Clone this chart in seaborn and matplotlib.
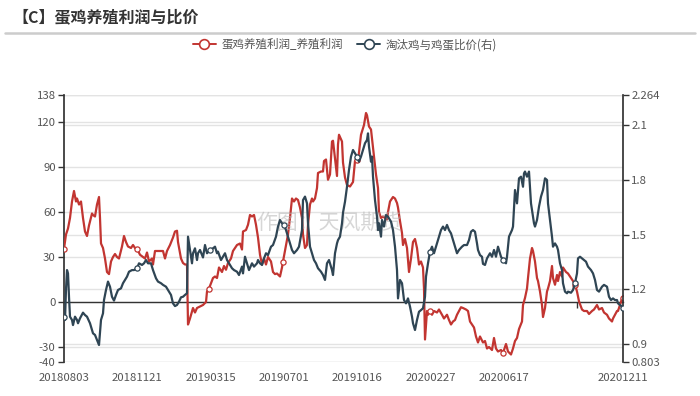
import numpy as np
import pandas as pd
import matplotlib
matplotlib.use("Agg")
import matplotlib.pyplot as plt
import seaborn as sns
from matplotlib.lines import Line2D

# ---------------- data (trading-day index -> value) ----------------
date_labels = ["20180803", "20181121", "20190315", "20190701",
               "20191016", "20200227", "20200617", "20201211"]
label_idx = [0, 73, 147, 220, 293, 367, 440, 559]
minor_tick_idx = [73, 147, 220, 293, 367, 440, 513]
marker_idx = [0, 73, 146, 220, 293, 366, 439, 511, 559]

profit_x = [0, 2, 4, 6, 8, 10, 12, 13, 15, 17, 19, 21, 23, 25, 28, 29, 31, 33, 35, 36,
            37, 39, 41, 43, 45, 47, 49, 51, 53, 55, 58, 60, 62, 64, 67, 69, 71, 73, 76, 79,
            81, 83, 85, 88, 89, 91, 93, 96, 99, 101, 103, 106, 109, 111, 113, 114, 117, 119, 121, 123,
            124, 126, 129, 131, 133, 136, 139, 142, 143, 145, 149, 151, 153, 155, 158, 160, 162, 164, 167, 169,
            171, 173, 176, 178, 179, 182, 184, 186, 188, 190, 192, 194, 196, 198, 200, 202, 204, 207, 209, 211,
            213, 216, 218, 219, 222, 224, 226, 228, 230, 232, 234, 236, 238, 239, 241, 243, 244, 246, 248, 249,
            251, 253, 254, 257, 259, 260, 262, 264, 266, 268, 269, 271, 273, 274, 275, 278, 279, 281, 283, 286,
            289, 291, 293, 294, 297, 299, 300, 302, 303, 305, 307, 309, 312, 314, 315, 317, 319, 321, 323, 324,
            326, 329, 331, 333, 334, 336, 338, 339, 341, 343, 345, 347, 349, 351, 353, 355, 357, 359, 360, 361,
            363, 364, 366, 368, 370, 373, 375, 378, 380, 383, 385, 387, 389, 391, 393, 395, 397, 399, 402, 404,
            406, 408, 410, 412, 414, 416, 419, 421, 423, 425, 428, 430, 432, 434, 437, 439, 442, 444, 447, 449,
            451, 453, 455, 458, 459, 461, 463, 464, 466, 468, 469, 471, 473, 474, 476, 478, 479, 481, 483, 484,
            486, 488, 489, 491, 493, 494, 496, 498, 499, 502, 504, 507, 509, 511, 513, 515, 518, 520, 523, 525,
            528, 530, 533, 535, 538, 540, 543, 545, 548, 549, 551, 553, 554, 556, 558, 559]
profit_y = [35.5, 45, 49, 56, 67, 74, 67, 69, 65, 67, 56, 47, 44, 51, 59, 58, 57, 65, 70, 56,
            39, 36, 29, 20, 18.6, 27, 30, 32, 30, 29, 37, 44, 40, 37, 36, 38, 36, 35.5, 31.5, 30,
            29, 33, 27, 29, 25, 34, 34, 34, 34, 29, 34, 38, 43, 47, 47.5, 40, 29, 26, 25, 25,
            -15, -11, -4, -7, -4, -3, -2, 0, 7, 9, 16, 17, 16, 23, 20, 24, 21.5, 26, 29, 34,
            36, 38, 39, 35, 47, 48, 51.5, 58, 57, 58, 51.5, 43, 31.5, 25, 29, 25, 30, 27, 20, 18.6,
            19, 17, 23, 27, 38, 45, 56, 69, 67, 69, 68, 63, 56, 45, 36, 38, 51.5, 65, 69, 67,
            69, 76, 86, 87, 87, 94, 95, 81.5, 85, 107, 107.5, 96, 84, 105, 111.5, 107, 93, 83, 78, 77,
            80, 94, 95, 94, 111.5, 116, 118, 126, 124.5, 117, 115, 103, 85, 76, 60, 56, 57, 56, 55, 60,
            67, 70, 69, 66, 63, 54, 46, 38, 42, 36, 20, 29, 40, 42, 36, 25, 27, 23, 9, -25,
            -6, -8.5, -6, -8.5, -6, -7, -5, -8.5, -11, -8.5, -12, -15, -13, -12, -8.5, -6, -3.5, -4, -5, -6,
            -13, -15, -17, -23, -27, -23, -27, -26, -31, -30, -32, -24, -31, -33, -32, -34, -28, -33, -35, -31,
            -26, -24, -18, -13, -2, 2.7, 9, 16, 29, 36, 34, 27, 16, 14, 7, -2, -10, -4, 7, 9,
            14, 24, 16, 11.5, 18, 14, 20, 17, 23, 20, 19, 16, 14, 11.5, 7, 0.4, -5, -6, -6, -8,
            -6, -5, -2, -5, -4, -7, -8.5, -11, -13, -11, -8.5, -6, -6, -2, 2.2, 2.7]

ratio_x = [0, 1, 2, 3, 4, 5, 6, 8, 9, 11, 13, 14, 16, 19, 21, 23, 26, 29, 31, 33,
           35, 37, 39, 40, 42, 44, 46, 48, 50, 52, 54, 57, 59, 61, 63, 65, 68, 70, 73, 75,
           78, 80, 82, 84, 87, 89, 92, 94, 97, 99, 102, 104, 107, 109, 111, 113, 115, 117, 119, 121,
           123, 124, 126, 128, 129, 131, 133, 134, 136, 139, 141, 143, 146, 149, 151, 153, 154, 157, 159, 161,
           163, 165, 168, 170, 173, 175, 178, 179, 181, 183, 185, 188, 190, 193, 194, 196, 198, 200, 202, 204,
           207, 209, 212, 214, 216, 218, 220, 222, 224, 226, 228, 230, 233, 235, 238, 239, 241, 243, 244, 246,
           248, 250, 252, 254, 257, 259, 261, 263, 265, 268, 269, 271, 273, 274, 276, 278, 279, 281, 283, 285,
           287, 289, 291, 293, 295, 297, 299, 301, 303, 304, 305, 307, 308, 309, 311, 313, 314, 315, 317, 318,
           320, 322, 324, 327, 329, 331, 333, 334, 336, 338, 340, 342, 344, 346, 348, 349, 351, 353, 355, 357,
           359, 361, 362, 364, 366, 368, 370, 372, 374, 377, 379, 381, 383, 385, 387, 389, 391, 393, 395, 398,
           400, 403, 405, 407, 409, 411, 413, 414, 416, 418, 419, 421, 423, 426, 428, 430, 432, 434, 437, 439,
           442, 443, 445, 448, 449, 451, 452, 453, 455, 457, 459, 460, 461, 463, 465, 467, 468, 470, 471, 473,
           475, 477, 479, 481, 483, 484, 486, 488, 489, 491, 493, 494, 496, 498, 499, 501, 503, 504, 507, 509,
           511, 513, 514, 516, 518, 520, 522, 524, 527, 529, 531, 533, 535, 538, 540, 543, 545, 547, 549, 551,
           553, 554, 556, 558, 559]
ratio_y = [1.047, 1.033, 1.200, 1.306, 1.288, 1.160, 1.051, 1.033, 1.005, 1.051, 1.033, 1.015, 1.042, 1.073, 1.060, 1.051, 1.015, 0.960, 0.951, 0.923,
           0.896, 1.033, 1.069, 1.142, 1.197, 1.243, 1.215, 1.160, 1.139, 1.170, 1.197, 1.206, 1.234, 1.252, 1.270, 1.297, 1.306, 1.306, 1.316, 1.343,
           1.334, 1.343, 1.361, 1.343, 1.343, 1.306, 1.261, 1.243, 1.234, 1.225, 1.215, 1.197, 1.170, 1.124, 1.109, 1.115, 1.133, 1.157, 1.160, 1.170,
           1.179, 1.489, 1.416, 1.343, 1.398, 1.425, 1.361, 1.398, 1.416, 1.375, 1.443, 1.398, 1.416, 1.425, 1.434, 1.398, 1.407, 1.361, 1.379, 1.398,
           1.361, 1.343, 1.316, 1.306, 1.297, 1.279, 1.325, 1.288, 1.379, 1.343, 1.306, 1.343, 1.325, 1.343, 1.361, 1.343, 1.334, 1.370, 1.398, 1.388,
           1.434, 1.443, 1.489, 1.544, 1.580, 1.562, 1.553, 1.525, 1.489, 1.452, 1.416, 1.398, 1.416, 1.434, 1.525, 1.689, 1.708, 1.671, 1.562, 1.434,
           1.398, 1.361, 1.343, 1.316, 1.297, 1.279, 1.252, 1.343, 1.361, 1.306, 1.279, 1.398, 1.452, 1.470, 1.489, 1.562, 1.620, 1.680, 1.762, 1.854,
           1.927, 1.963, 1.945, 1.927, 1.899, 1.927, 1.963, 2.000, 2.018, 2.054, 1.981, 1.899, 1.927, 1.817, 1.689, 1.598, 1.525, 1.562, 1.489, 1.580,
           1.544, 1.607, 1.598, 1.571, 1.525, 1.434, 1.306, 1.151, 1.252, 1.234, 1.142, 1.124, 1.151, 1.106, 1.051, 1.015, 0.978, 1.033, 1.078, 1.087,
           1.097, 1.160, 1.270, 1.343, 1.407, 1.434, 1.398, 1.434, 1.470, 1.525, 1.544, 1.525, 1.553, 1.525, 1.507, 1.470, 1.434, 1.398, 1.416, 1.434,
           1.443, 1.443, 1.470, 1.516, 1.525, 1.516, 1.452, 1.416, 1.388, 1.379, 1.340, 1.334, 1.370, 1.398, 1.379, 1.416, 1.379, 1.434, 1.379, 1.361,
           1.343, 1.379, 1.489, 1.525, 1.544, 1.744, 1.708, 1.671, 1.808, 1.817, 1.762, 1.835, 1.845, 1.817, 1.845, 1.671, 1.635, 1.562, 1.544, 1.580,
           1.653, 1.708, 1.744, 1.808, 1.799, 1.671, 1.580, 1.489, 1.434, 1.452, 1.434, 1.416, 1.343, 1.306, 1.234, 1.188, 1.179, 1.188, 1.182, 1.197,
           1.234, 1.288, 1.370, 1.379, 1.370, 1.361, 1.352, 1.325, 1.306, 1.288, 1.252, 1.197, 1.188, 1.215, 1.225, 1.215, 1.160, 1.142, 1.151, 1.142,
           1.142, 1.124, 1.115, 1.106, 1.097]

left_ticks = [138, 120, 90, 60, 30, 0, -30, -40]
right_ticks = [2.264, 2.1, 1.8, 1.5, 1.2, 0.9, 0.803]
left_lim = (-40, 138)
right_lim = (0.803, 2.264)

name_profit = "蛋鸡养殖利润_养殖利润"
name_ratio = "淘汰鸡与鸡蛋比价(右)"
title = "【C】蛋鸡养殖利润与比价"

RED = "#c23531"
NAVY = "#2f4554"
TXT = "#555555"
GRID = "#e3e3e3"

# ---------------- styling ----------------
sns.set_theme(style="white")
plt.rcParams["font.family"] = ["Noto Sans CJK SC", "DejaVu Sans"]
plt.rcParams["axes.unicode_minus"] = False

fig = plt.figure(figsize=(7.0, 3.96), dpi=100)
ax = fig.add_axes([64 / 700, 1 - 362 / 396, (623 - 64) / 700, (362 - 95) / 396])
ax2 = ax.twinx()
ax.set_zorder(1)
ax2.set_zorder(2)
ax.patch.set_visible(False)
ax2.patch.set_visible(False)

df_p = pd.DataFrame({"idx": profit_x, "val": profit_y})
df_r = pd.DataFrame({"idx": ratio_x, "val": ratio_y})

# gridlines (both axes' ticks drawn on the left axes, beneath the lines)
for t in left_ticks:
    ax.axhline(t, color=GRID, lw=1.0, zorder=0)
for v in right_ticks:
    ax.axhline(left_lim[0] + (v - right_lim[0]) / (right_lim[1] - right_lim[0]) * (left_lim[1] - left_lim[0]),
               color=GRID, lw=1.0, zorder=0)

sns.lineplot(data=df_p, x="idx", y="val", ax=ax, color=RED, lw=1.6, sort=False,
             estimator=None, zorder=3)
sns.lineplot(data=df_r, x="idx", y="val", ax=ax2, color=NAVY, lw=1.6, sort=False,
             estimator=None, zorder=3)


def nearest_rows(df, targets):
    rows = [int(np.argmin(np.abs(df["idx"].values - t))) for t in targets]
    return df.iloc[rows]


sns.scatterplot(data=nearest_rows(df_p, marker_idx), x="idx", y="val", ax=ax, s=14,
                facecolor="white", edgecolor=RED, linewidth=0.9, zorder=4)
sns.scatterplot(data=nearest_rows(df_r, marker_idx), x="idx", y="val", ax=ax2, s=14,
                facecolor="white", edgecolor=NAVY, linewidth=0.9, zorder=4)

ax.set_xlim(0, 559)
ax.set_ylim(*left_lim)
ax2.set_ylim(*right_lim)
ax.set_xlabel("")
ax.set_ylabel("")
ax2.set_ylabel("")

ax.set_yticks(left_ticks)
ax.set_yticklabels([str(t) for t in left_ticks])
ax2.set_yticks(right_ticks)
ax2.set_yticklabels([("%g" % v) for v in right_ticks])
ax2.grid(False)
ax.grid(False)

# x axis on the zero line, labels at the bottom
ax.spines["bottom"].set_position(("data", 0))
ax.spines["bottom"].set_color("#333333")
ax.spines["bottom"].set_linewidth(1.0)
ax.set_xticks(label_idx)
ax.set_xticklabels(date_labels)
ax.set_xticks(minor_tick_idx, minor=True)
ax.tick_params(axis="x", which="major", length=0, pad=51, labelsize=8.2, labelcolor=TXT)
ax.tick_params(axis="x", which="minor", length=4, width=1, color="#333333", direction="out", bottom=True)

for a in (ax, ax2):
    a.spines["top"].set_visible(False)
ax2.spines["bottom"].set_visible(False)
ax2.spines["left"].set_visible(False)
ax.spines["right"].set_visible(False)
ax.spines["left"].set_color("#333333")
ax2.spines["right"].set_color("#333333")
ax.tick_params(axis="y", which="major", left=True, length=4, width=1, color="#333333",
               labelsize=8.2, labelcolor=TXT, pad=2)
ax2.tick_params(axis="y", which="major", right=True, length=4, width=1, color="#333333",
                labelsize=8.2, labelcolor=TXT, pad=2)

# watermark
ax.text(0.475, 0.52, "作图：天风期货", transform=ax.transAxes, ha="center", va="center",
        fontsize=15, color="#b5b5b5", alpha=0.55, zorder=5)

# title and separator
fig.text(12 / 700, 1 - 17 / 396, title, ha="left", va="center", fontsize=11.5,
         fontweight="bold", color="#333333")
fig.add_artist(Line2D([5 / 700, 695 / 700], [1 - 33 / 396, 1 - 33 / 396],
                      transform=fig.transFigure, color="#cccccc", lw=1.8))

# legend
handles = [
    Line2D([], [], color=RED, lw=1.4, marker="o", markersize=7, markerfacecolor="white",
           markeredgecolor=RED, markeredgewidth=1.2),
    Line2D([], [], color=NAVY, lw=1.4, marker="o", markersize=7, markerfacecolor="white",
           markeredgecolor=NAVY, markeredgewidth=1.2),
]
leg = fig.legend(handles, [name_profit, name_ratio], loc="center", ncol=2,
                 bbox_to_anchor=(345 / 700, 1 - 45 / 396), frameon=False, fontsize=8.3,
                 handlelength=2.0, handletextpad=0.5, columnspacing=1.2)
for t in leg.get_texts():
    t.set_color(TXT)

fig.savefig("out.png", dpi=100)
